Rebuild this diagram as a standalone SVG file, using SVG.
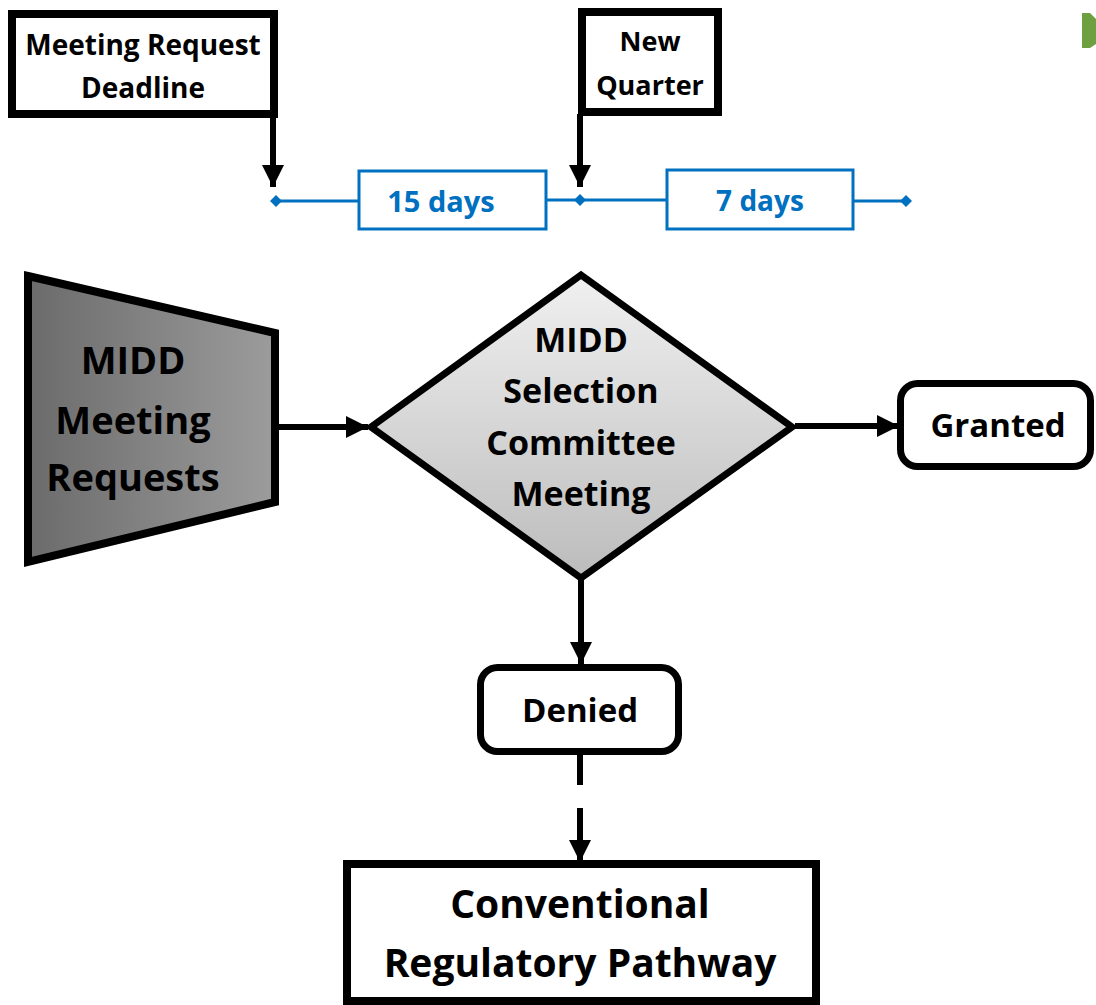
<svg xmlns="http://www.w3.org/2000/svg" width="1096" height="1005" viewBox="0 0 1096 1005">
<defs>
  <linearGradient id="gTrap" x1="0" y1="0" x2="1" y2="0">
    <stop offset="0" stop-color="#6b6b6b"/>
    <stop offset="1" stop-color="#9c9c9c"/>
  </linearGradient>
  <linearGradient id="gDia" x1="0" y1="0" x2="0" y2="1">
    <stop offset="0" stop-color="#f0f0f0"/>
    <stop offset="1" stop-color="#bcbcbc"/>
  </linearGradient>
  <marker id="arr" markerUnits="userSpaceOnUse" markerWidth="22" markerHeight="22" refX="22" refY="11" orient="auto">
    <path d="M0,0 L22,11 L0,22 z" fill="#000"/>
  </marker>
  <style>
    .t { font-family: "Open Sans", Lato, "Liberation Sans", sans-serif; font-weight: bold; text-anchor: middle; fill: #000; }
    .blue { fill: #0070C0; }
    .box { fill: #fff; stroke: #000; stroke-width: 8; }
    .rbox { fill: #fff; stroke: #000; stroke-width: 7; }
    .bbox { fill: #fff; stroke: #0070C0; stroke-width: 3; }
    .conn { stroke: #000; stroke-width: 6; fill: none; }
    .tl { stroke: #0070C0; stroke-width: 3; fill: none; }
  </style>
</defs>

<!-- green partial shape -->
<path d="M1082,13 L1090,13 L1096,19 L1096,44 L1090,48 L1082,48 Z" fill="#6e9f40"/>

<g id="connectors">
  <line class="conn" x1="273" y1="116" x2="273" y2="187" marker-end="url(#arr)"/>
  <line class="conn" x1="580" y1="114" x2="580" y2="187" marker-end="url(#arr)"/>
  <line class="conn" x1="275" y1="427" x2="368" y2="427" marker-end="url(#arr)"/>
  <line class="conn" x1="795" y1="426" x2="899" y2="426" marker-end="url(#arr)"/>
  <line class="conn" x1="581" y1="580" x2="581" y2="664" marker-end="url(#arr)"/>
  <line class="conn" x1="580" y1="755" x2="580" y2="785"/>
  <line class="conn" x1="580" y1="808" x2="580" y2="862" marker-end="url(#arr)"/>
</g>

<g id="timeline">
  <line class="tl" x1="276" y1="201" x2="359" y2="201"/>
  <line class="tl" x1="546" y1="200" x2="667" y2="200"/>
  <line class="tl" x1="853" y1="201" x2="906" y2="201"/>
  <polygon class="blue" points="276,195 282,201 276,207 270,201"/>
  <polygon class="blue" points="580,194 586,200 580,206 574,200"/>
  <polygon class="blue" points="906,195 912,201 906,207 900,201"/>
</g>

<g id="deadline">
  <rect class="box" x="12" y="14" width="262" height="100"/>
  <text class="t" x="143" y="55" font-size="28">Meeting Request</text>
  <text class="t" x="143" y="98" font-size="28">Deadline</text>
</g>

<g id="newquarter">
  <rect class="box" x="582" y="12" width="136" height="100"/>
  <text class="t" x="650" y="51" font-size="27">New</text>
  <text class="t" x="650" y="95" font-size="27">Quarter</text>
</g>

<g id="days15">
  <rect class="bbox" x="359" y="171" width="187" height="58"/>
  <text class="t blue" x="441" y="212" font-size="29">15 days</text>
</g>

<g id="days7">
  <rect class="bbox" x="667" y="170" width="186" height="59"/>
  <text class="t blue" x="760" y="211" font-size="28">7 days</text>
</g>

<g id="requests">
  <polygon points="28,276 275,333 275,502 28,562" fill="url(#gTrap)" stroke="#000" stroke-width="8" stroke-linejoin="miter"/>
  <text class="t" x="133" y="374" font-size="38">MIDD</text>
  <text class="t" x="133" y="434" font-size="38">Meeting</text>
  <text class="t" x="133" y="491" font-size="38">Requests</text>
</g>

<g id="committee">
  <polygon points="371,427 581,275 792,427 581,578" fill="url(#gDia)" stroke="#000" stroke-width="7" stroke-linejoin="miter"/>
  <text class="t" x="581" y="352" font-size="34">MIDD</text>
  <text class="t" x="581" y="403" font-size="34">Selection</text>
  <text class="t" x="581" y="455" font-size="34">Committee</text>
  <text class="t" x="581" y="506" font-size="34">Meeting</text>
</g>

<g id="granted">
  <rect class="rbox" x="900.5" y="383.5" width="190" height="83" rx="17"/>
  <text class="t" x="998" y="437" font-size="33">Granted</text>
</g>

<g id="denied">
  <rect class="rbox" x="480.5" y="667.5" width="198" height="84" rx="17"/>
  <text class="t" x="580" y="722" font-size="33">Denied</text>
</g>

<g id="conventional">
  <rect class="box" x="347" y="864" width="469" height="137"/>
  <text class="t" x="580" y="918" font-size="39">Conventional</text>
  <text class="t" x="580" y="977" font-size="39">Regulatory Pathway</text>
</g>
</svg>
